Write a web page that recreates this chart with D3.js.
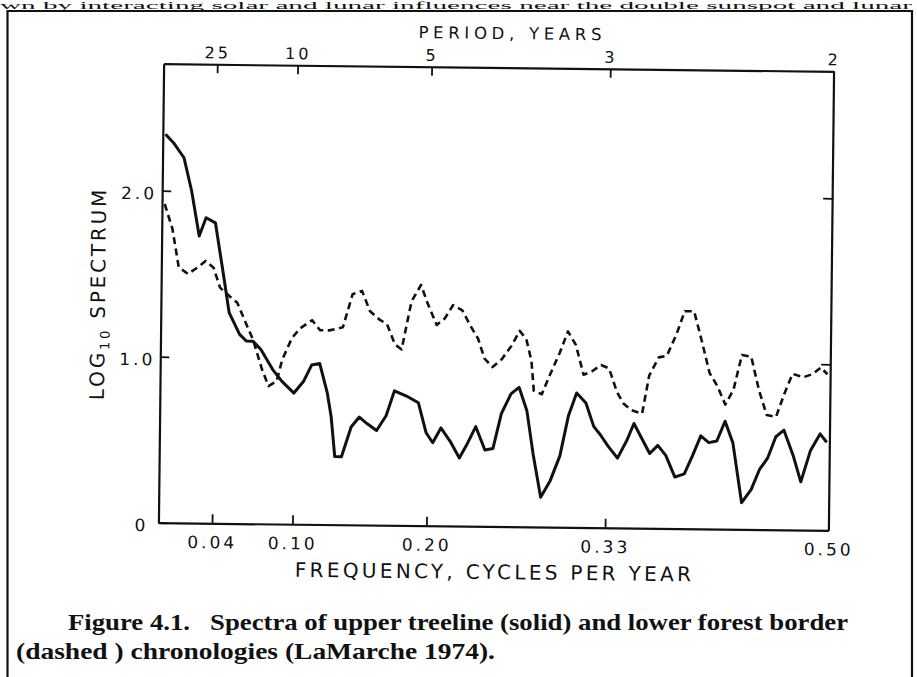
<!DOCTYPE html>
<html>
<head>
<meta charset="utf-8">
<script src="https://cdn.jsdelivr.net/npm/d3@7"></script>
<style>
  html, body { margin: 0; padding: 0; background: #fff; }
  svg { display: block; }
</style>
</head>
<body>
<div id="chart"></div>
<script>
// Axis ticks and labels
const freqTicks = [0.04, 0.10, 0.20, 1 / 3, 0.50];
const freqLabels = ["0.04", "0.10", "0.20", "0.33", "0.50"];
const periodTicks = [25, 10, 5, 3, 2];
const periodLabels = ["25", "10", "5", "3", "2"];
const logTicks = [0, 1, 2];
const logLabels = ["0", "1.0", "2.0"];

// Upper treeline (solid) - frequency (cycles/yr) and log10 spectrum
const solidFreq = [0.002, 0.008, 0.016, 0.022, 0.028, 0.033, 0.040, 0.046, 0.051, 0.059,
  0.064, 0.069, 0.075, 0.084, 0.091, 0.100, 0.107, 0.113, 0.119, 0.125,
  0.128, 0.131, 0.136, 0.143, 0.149, 0.155, 0.162, 0.169, 0.175, 0.184,
  0.193, 0.199, 0.204, 0.210, 0.217, 0.224, 0.230, 0.236, 0.243, 0.249,
  0.255, 0.262, 0.268, 0.274, 0.279, 0.285, 0.292, 0.299, 0.305, 0.311,
  0.318, 0.324, 0.329, 0.335, 0.342, 0.349, 0.354, 0.360, 0.366, 0.372,
  0.378, 0.385, 0.392, 0.398, 0.404, 0.410, 0.416, 0.422, 0.428, 0.435,
  0.442, 0.448, 0.454, 0.460, 0.466, 0.473, 0.479, 0.486, 0.493, 0.498];
const solidLog = [2.34, 2.29, 2.20, 2.00, 1.73, 1.84, 1.81, 1.52, 1.27, 1.14,
  1.10, 1.10, 1.05, 0.93, 0.86, 0.79, 0.86, 0.96, 0.97, 0.79,
  0.65, 0.41, 0.41, 0.59, 0.65, 0.61, 0.57, 0.66, 0.81, 0.78,
  0.74, 0.56, 0.50, 0.59, 0.51, 0.41, 0.50, 0.60, 0.46, 0.47,
  0.68, 0.80, 0.84, 0.70, 0.44, 0.18, 0.28, 0.43, 0.67, 0.81,
  0.75, 0.61, 0.56, 0.49, 0.42, 0.53, 0.63, 0.54, 0.45, 0.50,
  0.44, 0.31, 0.33, 0.44, 0.56, 0.52, 0.53, 0.65, 0.52, 0.16,
  0.24, 0.36, 0.43, 0.56, 0.60, 0.45, 0.29, 0.48, 0.58, 0.53];

// Lower forest border (dashed)
const dashedFreq = [0.002, 0.004, 0.008, 0.013, 0.020, 0.027, 0.033, 0.039, 0.044, 0.051,
  0.057, 0.064, 0.069, 0.076, 0.081, 0.087, 0.091, 0.098, 0.104, 0.113,
  0.119, 0.126, 0.136, 0.143, 0.150, 0.156, 0.163, 0.169, 0.175, 0.180,
  0.187, 0.194, 0.199, 0.206, 0.212, 0.218, 0.225, 0.231, 0.237, 0.242,
  0.248, 0.255, 0.262, 0.268, 0.273, 0.277, 0.279, 0.285, 0.290, 0.298,
  0.304, 0.310, 0.316, 0.322, 0.329, 0.335, 0.341, 0.346, 0.352, 0.360,
  0.365, 0.372, 0.378, 0.385, 0.391, 0.398, 0.404, 0.410, 0.416, 0.422,
  0.428, 0.434, 0.441, 0.447, 0.453, 0.460, 0.466, 0.472, 0.480, 0.487,
  0.493, 0.498];
const dashedLog = [1.92, 1.87, 1.77, 1.54, 1.50, 1.54, 1.58, 1.54, 1.42, 1.37,
  1.33, 1.20, 1.11, 0.93, 0.83, 0.86, 0.99, 1.12, 1.18, 1.23,
  1.17, 1.17, 1.19, 1.39, 1.41, 1.29, 1.24, 1.21, 1.09, 1.06,
  1.35, 1.45, 1.34, 1.21, 1.25, 1.33, 1.30, 1.21, 1.13, 1.01,
  0.96, 1.01, 1.09, 1.18, 1.13, 1.00, 0.82, 0.80, 0.90, 1.05,
  1.18, 1.10, 0.92, 0.94, 0.98, 0.96, 0.82, 0.75, 0.71, 0.69,
  0.92, 1.03, 1.04, 1.17, 1.31, 1.31, 1.13, 0.94, 0.86, 0.75,
  0.84, 1.05, 1.04, 0.84, 0.69, 0.68, 0.82, 0.94, 0.92, 0.94,
  0.98, 0.94];

const W = 917, H = 677;
const plot = { left: 161, right: 831, top: 67.5, bottom: 526.5 };
const tilt = 0.65; // the scanned figure sits slightly rotated on the page
const ink = "#111";
const labelFont = "'DejaVu Sans', sans-serif";
const serifFont = "'Liberation Serif', 'Times New Roman', serif";

const svg = d3.select("#chart").append("svg")
  .attr("width", W)
  .attr("height", H);

// last line of the preceding paragraph, squeezed in above the frame
svg.append("text")
  .attr("x", 0)
  .attr("y", 9.4)
  .attr("textLength", 912)
  .attr("lengthAdjust", "spacingAndGlyphs")
  .attr("font-family", serifFont)
  .attr("font-size", 11)
  .attr("fill", ink)
  .text("wn by interacting solar and lunar influences near the double sunspot and lunar");

// page frame
svg.append("path")
  .attr("d", "M7.5," + H + "V11H912V" + H)
  .attr("fill", "none")
  .attr("stroke", ink)
  .attr("stroke-width", 2.2);

const cx = (plot.left + plot.right) / 2, cy = (plot.top + plot.bottom) / 2;
const g = svg.append("g")
  .attr("transform", "rotate(" + tilt + "," + cx + "," + cy + ")");

const x = d3.scaleLinear().domain([0, 0.5]).range([plot.left, plot.right]);
const y = d3.scaleLinear().domain([0, 2.765]).range([plot.bottom, plot.top]);

function styleAxis(sel, size) {
  sel.select(".domain").attr("stroke", ink).attr("stroke-width", 2.2);
  sel.selectAll(".tick line").attr("stroke", ink).attr("stroke-width", 1.8);
  sel.selectAll("text")
    .attr("fill", ink)
    .style("font-family", labelFont)
    .style("font-size", size + "px")
    .style("letter-spacing", "3px");
}

// bottom axis: frequency
g.append("g")
  .attr("transform", "translate(0," + plot.bottom + ")")
  .call(d3.axisBottom(x).tickValues(freqTicks)
    .tickFormat((d, i) => freqLabels[i])
    .tickSizeInner(-9).tickSizeOuter(0).tickPadding(13))
  .call(styleAxis, 17);

// top axis: period in years
g.append("g")
  .attr("transform", "translate(0," + plot.top + ")")
  .call(d3.axisTop(x).tickValues(periodTicks.map(p => 1 / p))
    .tickFormat((d, i) => periodLabels[i])
    .tickSizeInner(-9).tickSizeOuter(0).tickPadding(6))
  .call(styleAxis, 16);

// left axis
const left = g.append("g")
  .attr("transform", "translate(" + plot.left + ",0)")
  .call(d3.axisLeft(y).tickValues(logTicks)
    .tickFormat((d, i) => logLabels[i])
    .tickSizeInner(-9).tickSizeOuter(0).tickPadding(5))
  .call(styleAxis, 17);
left.selectAll(".tick text").attr("dy", "0.48em");
left.selectAll(".tick text").filter(d => d === 0).attr("dx", "-0.3em");

// right axis
g.append("g")
  .attr("transform", "translate(" + plot.right + ",0)")
  .call(d3.axisRight(y).tickValues([1, 2]).tickFormat("")
    .tickSizeInner(-9).tickSizeOuter(0))
  .call(styleAxis, 16);

// axis titles
g.append("text")
  .attr("x", (plot.left + plot.right) / 2 + 11)
  .attr("y", 39)
  .attr("text-anchor", "middle")
  .attr("textLength", 183)
  .attr("font-family", labelFont)
  .attr("font-size", 16.5)
  .attr("fill", ink)
  .text("PERIOD, YEARS");

g.append("text")
  .attr("x", (plot.left + plot.right) / 2)
  .attr("y", 579)
  .attr("text-anchor", "middle")
  .attr("textLength", 396)
  .attr("font-family", labelFont)
  .attr("font-size", 20)
  .attr("fill", ink)
  .text("FREQUENCY, CYCLES PER YEAR");

const ylab = g.append("text")
  .attr("transform", "translate(105,298) rotate(-90)")
  .attr("text-anchor", "middle")
  .attr("font-family", labelFont)
  .attr("font-size", 20)
  .attr("letter-spacing", 2.8)
  .attr("fill", ink);
ylab.append("tspan").text("LOG");
ylab.append("tspan").attr("font-size", 13).attr("dy", 5).text("10");
ylab.append("tspan").attr("dy", -5).text(" SPECTRUM");

// spectra
const line = d3.line().x(d => x(d[0])).y(d => y(d[1]));

g.append("path")
  .datum(dashedFreq.map((f, i) => [f, dashedLog[i]]))
  .attr("d", line)
  .attr("fill", "none")
  .attr("stroke", ink)
  .attr("stroke-width", 2.6)
  .attr("stroke-dasharray", "7,4.5")
  .attr("stroke-linejoin", "round");

g.append("path")
  .datum(solidFreq.map((f, i) => [f, solidLog[i]]))
  .attr("d", line)
  .attr("fill", "none")
  .attr("stroke", ink)
  .attr("stroke-width", 3)
  .attr("stroke-linejoin", "round");

// caption
const caption = svg.append("g")
  .attr("font-family", serifFont)
  .attr("font-weight", "bold")
  .attr("font-size", 24)
  .attr("fill", ink);
caption.append("text")
  .attr("x", 68).attr("y", 630)
  .attr("textLength", 780).attr("lengthAdjust", "spacingAndGlyphs")
  .text("Figure 4.1.\u00A0\u00A0 Spectra of upper treeline (solid) and lower forest border");
caption.append("text")
  .attr("x", 16).attr("y", 659)
  .attr("textLength", 479).attr("lengthAdjust", "spacingAndGlyphs")
  .text("(dashed ) chronologies (LaMarche 1974).");
</script>
</body>
</html>
